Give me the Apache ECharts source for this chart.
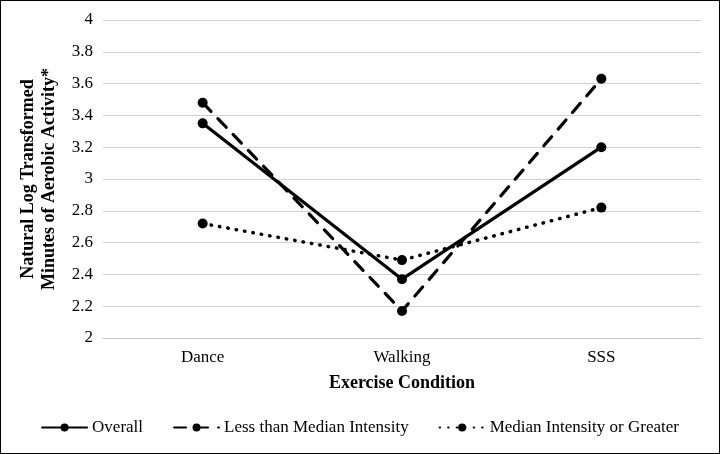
<!DOCTYPE html>
<html>
<head>
<meta charset="utf-8">
<script src="https://cdn.jsdelivr.net/npm/echarts@6/dist/echarts.min.js"></script>
<style>
  html, body { margin: 0; padding: 0; background: #fff; }
  #main { width: 720px; height: 454px; box-sizing: border-box; border: 1px solid #000; }
</style>
</head>
<body>
<div id="main"></div>
<script>
// categories
var conditions = ['Dance', 'Walking', 'SSS'];
// series values
var overall = [3.35, 2.37, 3.20];
var lessThanMedian = [3.48, 2.17, 3.63];
var medianOrGreater = [2.72, 2.49, 2.82];

var fontFam = '"Liberation Serif", "Times New Roman", serif';

function lineSeries(name, data, dashType, width) {
    return {
        name: name,
        type: 'line',
        data: data,
        symbol: 'circle',
        symbolSize: 10,
        itemStyle: { color: '#000' },
        lineStyle: { color: '#000', width: width, type: dashType, cap: 'round' },
        emphasis: { disabled: true }
    };
}

var myChart = echarts.init(document.getElementById('main'));
var option = {
    animation: false,
    textStyle: { fontFamily: fontFam },
    grid: { left: 102, right: 18, top: 19, bottom: 115 },
    legend: {
        bottom: 12,
        left: 'center',
        itemWidth: 45,
        itemHeight: 10,
        itemGap: 30,
        textStyle: { fontFamily: fontFam, fontSize: 17, color: '#000' },
        data: ['Overall', 'Less than Median Intensity', 'Median Intensity or Greater']
    },
    xAxis: {
        type: 'category',
        data: conditions,
        name: 'Exercise Condition',
        nameLocation: 'middle',
        nameGap: 36,
        nameTextStyle: { fontFamily: fontFam, fontSize: 18, fontWeight: 'bold', color: '#000' },
        axisLine: { lineStyle: { color: '#c8c8c8' } },
        axisTick: { show: false },
        axisLabel: { fontFamily: fontFam, fontSize: 17, color: '#000', margin: 11 }
    },
    yAxis: {
        type: 'value',
        min: 2,
        max: 4,
        interval: 0.2,
        name: 'Natural Log Transformed\nMinutes of Aerobic Activity*',
        nameLocation: 'middle',
        nameRotate: 90,
        nameGap: 43,
        nameTextStyle: { fontFamily: fontFam, fontSize: 18, fontWeight: 'bold', color: '#000', lineHeight: 21 },
        axisLine: { show: false },
        axisTick: { show: false },
        splitLine: { lineStyle: { color: '#d0d0d0' } },
        axisLabel: { fontFamily: fontFam, fontSize: 17, color: '#000', margin: 10 }
    },
    series: [
        lineSeries('Overall', overall, 'solid', 3.2),
        lineSeries('Less than Median Intensity', lessThanMedian, [12, 10], 3.2),
        lineSeries('Median Intensity or Greater', medianOrGreater, [0.5, 8], 3.5)
    ]
};
myChart.setOption(option);
</script>
</body>
</html>
